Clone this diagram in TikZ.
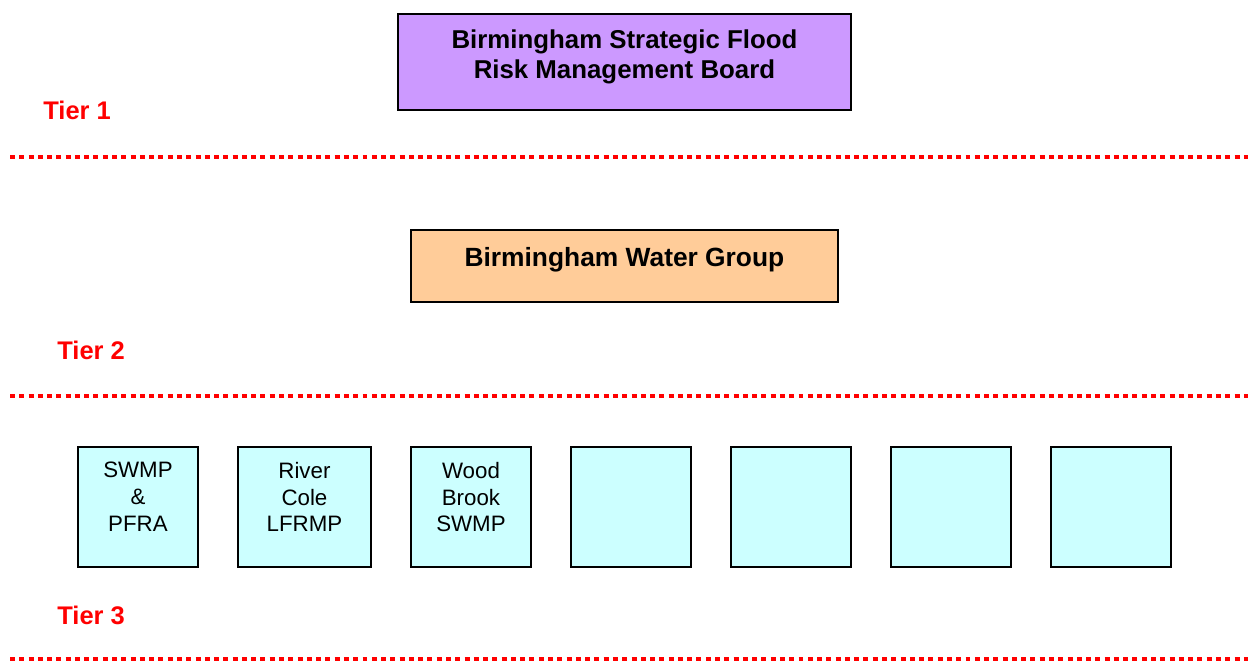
\documentclass[tikz,border=0pt]{standalone}
\usepackage{fontspec}
\setmainfont{Liberation Sans}
\usepackage{xcolor}
\usepackage{tikz}
\usetikzlibrary{positioning}

\definecolor{boardfill}{HTML}{CC99FF}
\definecolor{groupfill}{HTML}{FFCC99}
\definecolor{planfill}{HTML}{CCFFFF}
\definecolor{tierred}{HTML}{FF0000}

\begin{document}
\begin{tikzpicture}[
    x=0.02cm, y=-0.02cm,
    board/.style={draw=black, line width=1.1pt, fill=boardfill, anchor=north west,
                  inner sep=0pt, minimum width=453*0.02cm, minimum height=96*0.02cm},
    group/.style={draw=black, line width=1.1pt, fill=groupfill, anchor=north west,
                  inner sep=0pt, minimum width=427*0.02cm, minimum height=72*0.02cm},
    plan/.style={draw=black, line width=1.1pt, fill=planfill, anchor=north west,
                 inner sep=0pt, minimum width=120*0.02cm, minimum height=120*0.02cm},
    headtext/.style={anchor=north, inner sep=0pt, align=center,
                     font=\fontsize{14.7pt}{17.6pt}\selectfont\bfseries},
    plantext/.style={anchor=north, inner sep=0pt, align=center, yshift=-16*0.02cm,
                     font=\fontsize{12.7pt}{15.2pt}\selectfont},
    tier/.style={anchor=base west, inner sep=0pt, text=tierred,
                 font=\fontsize{14.5pt}{17pt}\selectfont\bfseries},
    divider/.style={draw=tierred, line width=2.83pt, dash pattern=on 2.83pt off 2.45pt}
]
    \useasboundingbox (0,0) rectangle (1255,662);

    % ── Tier 1 ──
    \node[board, label={[headtext, yshift=-16*0.02cm]north:Birmingham Strategic Flood\\Risk Management Board}]
        (Board) at (397,13) {};
    \node[tier] (TierOne) at (43,120) {Tier 1};
    \coordinate (DivOneL) at (10,157);
    \coordinate (DivOneR) at (1248,157);
    \draw[divider] (DivOneL) -- (DivOneR);

    % ── Tier 2 ──
    \node[group, label={[headtext, font=\fontsize{15pt}{17pt}\selectfont\bfseries, yshift=-18*0.02cm]north:Birmingham Water Group}]
        (WaterGroup) at (410,229) {};
    \node[tier] (TierTwo) at (57,359) {Tier 2};
    \coordinate (DivTwoL) at (10,396);
    \coordinate (DivTwoR) at (1248,396);
    \draw[divider] (DivTwoL) -- (DivTwoR);

    % ── Tier 3 : plans ──
    \node[plan, label={[plantext]north:SWMP\\\&\\PFRA}] (Swmp) at (77,446) {};
    \node[plan, minimum width=133*0.02cm, label={[plantext]north:River\\Cole\\LFRMP}] (RiverCole) at (237,446) {};
    \node[plan, label={[plantext]north:Wood\\Brook\\SWMP}] (WoodBrook) at (410,446) {};
    \node[plan] (PlanFour) at (570,446) {};
    \node[plan] (PlanFive) at (730,446) {};
    \node[plan] (PlanSix) at (890,446) {};
    \node[plan] (PlanSeven) at (1050,446) {};
    \node[tier] (TierThree) at (57,624) {Tier 3};
    \coordinate (DivThreeL) at (10,659);
    \coordinate (DivThreeR) at (1248,659);
    \draw[divider] (DivThreeL) -- (DivThreeR);

\end{tikzpicture}
\end{document}
